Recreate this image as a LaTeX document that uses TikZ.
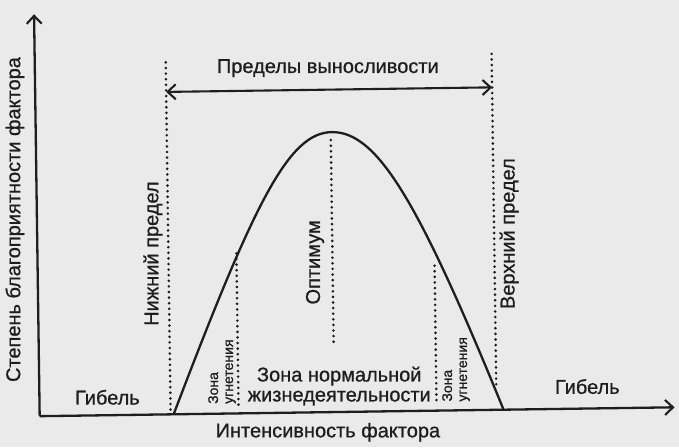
\documentclass[tikz,border=0pt]{standalone}
\usepackage{fontspec}
\setmainfont{Liberation Sans}[FakeBold=0.8]
\usetikzlibrary{arrows.meta}
\definecolor{paper}{HTML}{EAEAEA}
\definecolor{ink}{HTML}{1E1E1E}
\tikzset{
  lbl/.style={font=\fontsize{20}{20}\selectfont, text=ink, inner sep=0pt, align=center},
  smalllbl/.style={font=\fontsize{14}{15}\selectfont, text=ink, inner sep=0pt, align=left},
  dotline/.style={draw=ink, line width=2.9pt, line cap=round, dash pattern=on 0pt off 5.6pt},
  axisline/.style={draw=ink, line width=2.3pt},
  curveline/.style={draw=ink, line width=2.3pt},
  barb/.tip={Straight Barb[length=8pt, width=15pt, line width=2.1pt]}
}
\begin{document}
\begin{tikzpicture}[x=1pt, y=-1pt]
\fill[paper] (0,0) rectangle (679,447);
\useasboundingbox (0,0) rectangle (679,447);
\begin{scope}[rotate around={0.8:(340,223)}]
  % axes
  \coordinate (O) at (37,412);
  \coordinate (ytip) at (37,10);
  \coordinate (xtip) at (672,412);
  \draw[axisline, -barb] (O) -- (ytip);
  \draw[axisline, -barb] (O) -- (xtip);
  % curve
  \coordinate (L) at (171,412);
  \coordinate (P) at (333,132);
  \coordinate (R) at (501,412);
  \draw[curveline] (L) .. controls (255,200) and (290,132) .. (P)
                       .. controls (378,132) and (418,200) .. (R);
  % dotted lines
  \coordinate (lowTop) at (168,60);   \coordinate (lowBot) at (168,410);
  \coordinate (upTop) at (494,56);    \coordinate (upBot) at (494,392);
  \coordinate (optTop) at (332,140);  \coordinate (optBot) at (332,342);
  \coordinate (z1Top) at (236,252);   \coordinate (z1Bot) at (236,406);
  \coordinate (z2Top) at (434,267);   \coordinate (z2Bot) at (434,404);
  \draw[dotline] (lowTop) -- (lowBot);
  \draw[dotline] (upTop) -- (upBot);
  \draw[dotline] (optTop) -- (optBot);
  \draw[dotline] (z1Top) -- (z1Bot);
  \draw[dotline] (z2Top) -- (z2Bot);
  % tolerance arrow
  \coordinate (tolL) at (168,89.5);
  \coordinate (tolR) at (494,89.5);
  \draw[draw=ink, line width=2.1pt, barb-barb] (tolL) -- (tolR);
  % labels
  \node[lbl] (tol) at (330,68) {Пределы выносливости};
  \node[lbl, rotate=90] (low) at (152.5,251) {Нижний предел};
  \node[lbl, rotate=90] (opt) at (314.5,262) {Оптимум};
  \node[lbl, rotate=90] (up) at (509,236) {Верхний предел};
  \node[lbl] (norm) at (337,386) {Зона нормальной\\жизнедеятельности};
  \node[lbl] (dieL) at (105,394) {Гибель};
  \node[lbl] (dieR) at (585,390) {Гибель};
  \node[lbl] (xlab) at (325,432) {Интенсивность фактора};
  \node[lbl, rotate=90] (ylab) at (15,215) {Степень благоприятности фактора};
  \node[smalllbl, rotate=90] (z1) at (220,370) {Зона\\угнетения};
  \node[smalllbl, rotate=90] (z2) at (454,371) {Зона\\угнетения};
\end{scope}
\end{tikzpicture}
\end{document}
